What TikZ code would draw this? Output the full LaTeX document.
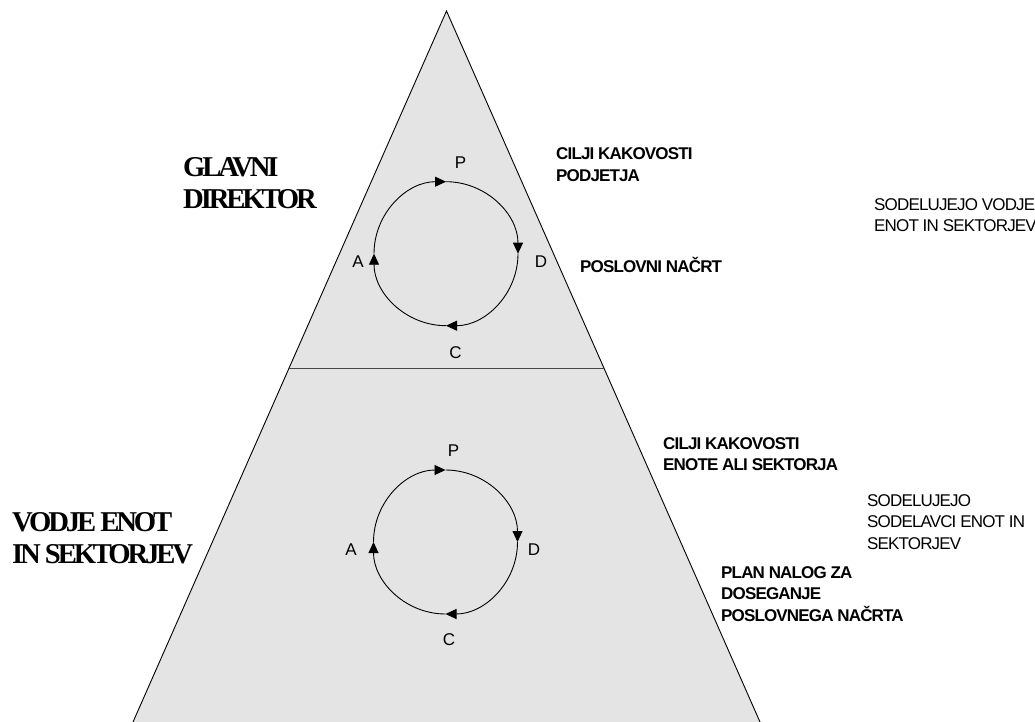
\documentclass[tikz,border=0pt]{standalone}
\usepackage{fontspec}
\setmainfont{Liberation Sans}
\newfontfamily\labelsans[LetterSpace=-5]{Liberation Sans}
\newfontfamily\titleserif[LetterSpace=-11]{Liberation Serif}
\usetikzlibrary{arrows.meta,calc}
\definecolor{pyramidfill}{RGB}{228,228,228}
\definecolor{splitline}{RGB}{70,70,70}

\tikzset{
  boldnote/.style={anchor=base west, inner sep=0pt,
    font=\labelsans\bfseries\fontsize{17}{21.5}\selectfont},
  plainnote/.style={anchor=base west, inner sep=0pt,
    font=\labelsans\fontsize{17}{21.5}\selectfont},
  levelname/.style={anchor=base west, inner sep=0pt,
    font=\titleserif\bfseries\fontsize{28.7}{31.5}\selectfont},
  cyclelabel/.style={inner sep=0pt, font=\fontsize{17}{20}\selectfont},
  cyclearc/.style={line width=0.9pt, -{Triangle[length=11pt,width=10pt]}},
}

\begin{document}
\begin{tikzpicture}[x=1pt, y=-1pt]
\useasboundingbox (0,0) rectangle (1035,722);
\clip (0,0) rectangle (1035,722);

% pyramid
\coordinate (apex) at (446.5,11);
\coordinate (baseL) at (133,722);
\coordinate (baseR) at (760,722);
\fill[pyramidfill] (apex) -- ($(apex)!1.02!(baseL)$) -- ($(apex)!1.02!(baseR)$) -- cycle;
\draw[line width=0.9pt] ($(apex)!1.02!(baseL)$) -- (apex) -- ($(apex)!1.02!(baseR)$);

% level divider
\coordinate (divL) at ($(apex)!0.5025!(baseL)$);
\coordinate (divR) at ($(apex)!0.5025!(baseR)$);
\draw[splitline, line width=1.3pt] (divL) -- (divR);

% upper PDCA cycle
\coordinate (ua) at (374,253.7);
\coordinate (up) at (446,181.7);
\coordinate (ud) at (518,253.7);
\coordinate (uc) at (446,325.7);
\draw[cyclearc] (ua) arc[start angle=180, end angle=270, radius=72];
\draw[cyclearc] (up) arc[start angle=270, end angle=360, radius=72];
\draw[cyclearc] (ud) arc[start angle=0, end angle=90, radius=72];
\draw[cyclearc] (uc) arc[start angle=90, end angle=180, radius=72];
\node[cyclelabel] (uP) at (460.5,162.5) {P};
\node[cyclelabel] (uD) at (541,262) {D};
\node[cyclelabel] (uC) at (455.5,352.5) {C};
\node[cyclelabel] (uA) at (358,261.7) {A};

% lower PDCA cycle
\coordinate (la) at (373.5,542);
\coordinate (lp) at (445.5,470);
\coordinate (ld) at (517.5,542);
\coordinate (lc) at (445.5,614);
\draw[cyclearc] (la) arc[start angle=180, end angle=270, radius=72];
\draw[cyclearc] (lp) arc[start angle=270, end angle=360, radius=72];
\draw[cyclearc] (ld) arc[start angle=0, end angle=90, radius=72];
\draw[cyclearc] (lc) arc[start angle=90, end angle=180, radius=72];
\node[cyclelabel] (lP) at (453.5,451) {P};
\node[cyclelabel] (lD) at (534,549.5) {D};
\node[cyclelabel] (lC) at (449,640) {C};
\node[cyclelabel] (lA) at (351,549.5) {A};

% level names
\node[levelname] (director) at (183,177) {\vtop{\hbox{GLAVNI}\hbox{DIREKTOR}}};
\node[levelname] (heads) at (12,531.7) {\vtop{\hbox{VODJE ENOT}\hbox{IN SEKTORJEV}}};

% upper level notes
\node[boldnote] (goalsCo) at (556,160) {\vtop{\hbox{CILJI KAKOVOSTI}\hbox{PODJETJA}}};
\node[boldnote] (bizplan) at (580,272.7) {POSLOVNI NAČRT};
\node[plainnote] (partHeads) at (874,210) {\vtop{\hbox{SODELUJEJO VODJE}\hbox{ENOT IN SEKTORJEV}}};

% lower level notes
\node[boldnote] (goalsUnit) at (663,449) {\vtop{\hbox{CILJI KAKOVOSTI}\hbox{ENOTE ALI SEKTORJA}}};
\node[plainnote] (partStaff) at (867,506) {\vtop{\hbox{SODELUJEJO}\hbox{SODELAVCI ENOT IN}\hbox{SEKTORJEV}}};
\node[boldnote] (taskplan) at (721,578) {\vtop{\hbox{PLAN NALOG ZA}\hbox{DOSEGANJE}\hbox{POSLOVNEGA NAČRTA}}};
\end{tikzpicture}
\end{document}
